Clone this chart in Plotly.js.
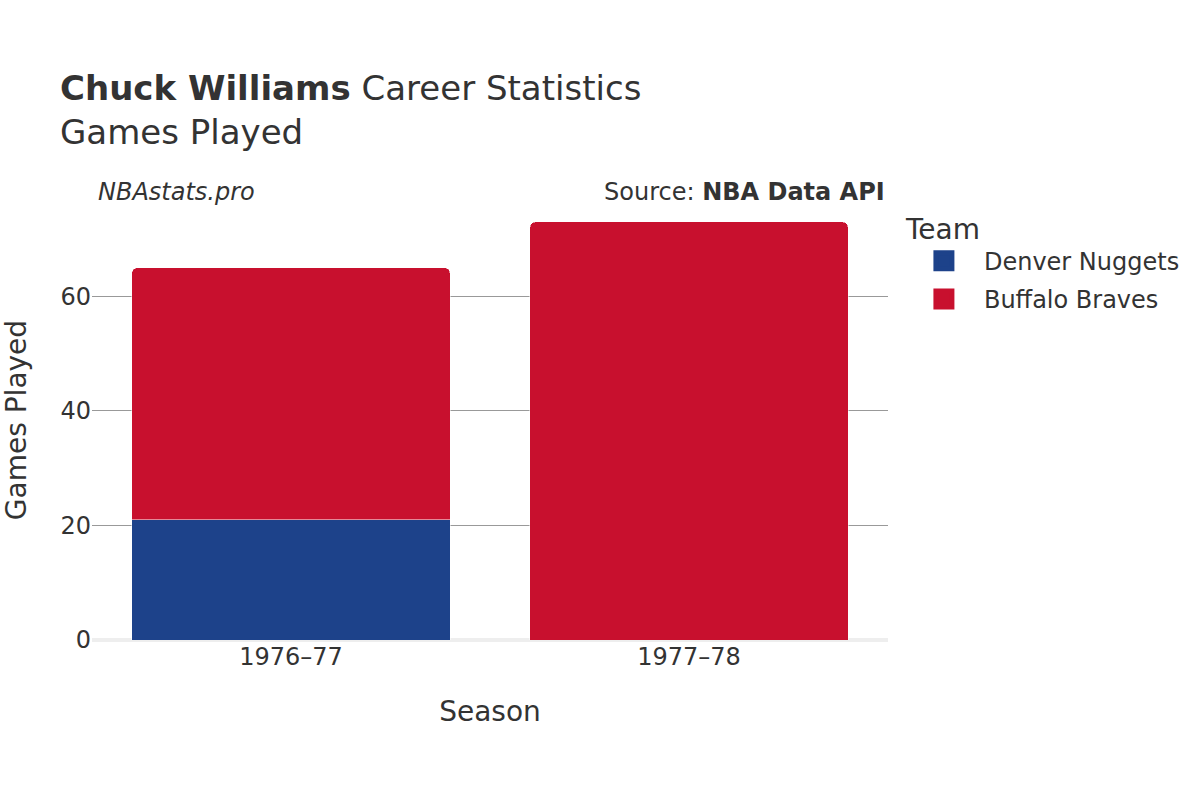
<!DOCTYPE html>
<html>
<head>
<meta charset="utf-8">
<script src="https://cdn.plot.ly/plotly-3.0.1.min.js"></script>
<style>body{margin:0;padding:0;}#chart{width:1200px;height:800px;}</style>
</head>
<body>
<div id="chart"></div>
<script>
const seasons = ["1976–77", "1977–78"];
const denverGames = [21, null];
const buffaloGames = [44, 73];
const teamNames = ["Denver Nuggets", "Buffalo Braves"];
const teamColors = ["#1d428a", "#c8102e"];

const font = "DejaVu Sans, sans-serif";
const traces = [
  {type: "bar", name: teamNames[0], x: seasons, y: denverGames, showlegend: false, legendgroup: "g0",
   marker: {color: teamColors[0], line: {color: "rgba(255,255,255,0.5)", width: 1}}},
  {type: "bar", name: teamNames[1], x: seasons, y: buffaloGames, showlegend: false, legendgroup: "g1",
   marker: {color: teamColors[1], line: {color: "rgba(255,255,255,0.5)", width: 1}}},
  {type: "scatter", mode: "markers", name: teamNames[0], x: [null], y: [null], legendgroup: "g0",
   marker: {symbol: "square", size: 16, color: teamColors[0], line: {color: teamColors[0], width: 5}}},
  {type: "scatter", mode: "markers", name: teamNames[1], x: [null], y: [null], legendgroup: "g1",
   marker: {symbol: "square", size: 16, color: teamColors[1], line: {color: teamColors[1], width: 5}}}
];
const layout = {
  width: 1200, height: 800,
  barmode: "stack", bargap: 0.2, barcornerradius: 6,
  paper_bgcolor: "#fff", plot_bgcolor: "#fff",
  font: {family: font, color: "#333", size: 24},
  margin: {l: 92, r: 312, t: 200, b: 160},
  title: {text: "<b>Chuck Williams</b> Career Statistics<br>Games Played",
          x: 0.05, xanchor: "left", y: 0.875, yanchor: "top",
          font: {family: font, size: 34, color: "#333"}},
  xaxis: {title: {text: "Season", font: {size: 28}, standoff: 31}, tickfont: {size: 24},
          showgrid: false, ticks: "", type: "category", range: [-0.5, 1.5]},
  yaxis: {title: {text: "Games Played", font: {size: 28}}, tickfont: {size: 24},
          showgrid: true, gridcolor: "#999", gridwidth: 1, dtick: 20,
          zeroline: true, zerolinecolor: "#eee", zerolinewidth: 4,
          ticks: "", range: [0, 76.8]},
  legend: {title: {text: "Team", font: {size: 28}}, font: {size: 24}, traceorder: "grouped",
           itemwidth: 70, tracegroupgap: 4,
           x: 1.02, xanchor: "left", y: 0.995, yanchor: "top"},
  annotations: [
    {text: "<i>NBAstats.pro</i>", xref: "paper", yref: "paper", x: 0.005, y: 1.018,
     xanchor: "left", yanchor: "middle", showarrow: false, font: {size: 24, color: "#333"}},
    {text: "Source: <b>NBA Data API</b>", xref: "paper", yref: "paper", x: 0.9985, y: 1.018,
     xanchor: "right", yanchor: "middle", showarrow: false, font: {size: 24, color: "#333"}}
  ]
};
Plotly.newPlot("chart", traces, layout, {displayModeBar: false});
</script>
</body>
</html>
